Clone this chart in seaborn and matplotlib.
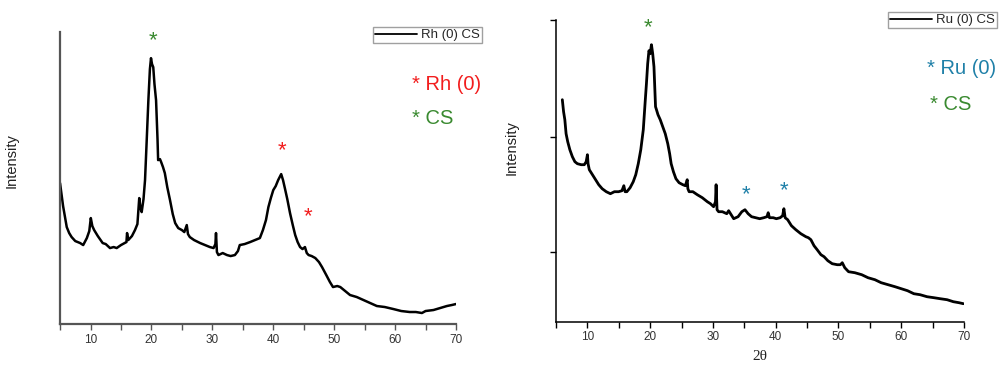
import matplotlib
matplotlib.use("Agg")
import matplotlib.pyplot as plt
import seaborn as sns
import pandas as pd

sns.set_theme(style="white")
plt.rcParams['font.family'] = ['Liberation Sans', 'DejaVu Sans']

# ---- Data ----
rh_two_theta = [5.0, 5.5, 6.1, 6.5, 6.9, 7.5, 8.3, 8.8, 9.4, 9.8, 10.05, 10.3, 10.6, 11.2, 12.0, 12.5,
                13.2, 13.8, 14.3, 15.0, 15.9, 16.0, 16.2, 16.8, 17.3, 17.7, 18.0, 18.2, 18.4, 18.7, 18.95,
                19.2, 19.5, 19.75, 19.93, 20.1, 20.3, 20.5, 20.76, 21.0, 21.1, 21.4, 21.6, 21.9, 22.2,
                22.6, 23.05, 23.5, 23.9, 24.4, 25.0, 25.4, 25.8, 26.0, 26.3, 27.0, 28.0, 28.8, 29.6,
                30.2, 30.5, 30.6, 30.75, 31.0, 31.7, 32.4, 33.0, 33.7, 34.2, 34.5, 35.3, 36.2, 37.0,
                37.8, 38.3, 38.8, 39.2, 39.6, 40.0, 40.4, 40.8, 41.3, 41.6, 41.9, 42.3, 42.75, 43.2,
                43.6, 44.0, 44.4, 44.8, 45.2, 45.5, 45.8, 46.3, 46.9, 47.5, 48.0, 48.7, 49.3, 49.8,
                50.5, 51.0, 51.8, 52.6, 53.7, 54.8, 55.9, 57.0, 58.3, 59.7, 61.0, 62.4, 63.4, 64.4,
                65.0, 66.3, 67.4, 68.5, 69.3, 70.0]
rh_intensity = [141, 118, 97, 91, 87, 83, 81, 79, 86, 93, 106, 98, 94, 88, 81, 80,
                76, 77, 76, 79, 82, 91, 84, 88, 94, 100, 126, 116, 112, 125, 144,
                180, 224, 255, 266, 260, 257, 240, 224, 185, 164, 165, 162, 157, 151,
                137, 124, 110, 101, 96, 94, 92, 99, 90, 87, 84, 81, 79, 77,
                76, 80, 91, 72, 69, 71, 69, 68, 69, 73, 79, 80, 82, 84,
                86, 94, 104, 117, 126, 134, 138, 144, 150, 144, 136, 125, 111, 99,
                89, 82, 77, 75, 77, 71, 69, 68, 66, 62, 57, 49, 42, 37,
                38, 37, 33, 29, 27, 24, 21, 18, 17, 15, 13, 12, 12, 11,
                13, 14, 16, 18, 19, 20]

ru_two_theta = [6.0, 6.2, 6.4, 6.6, 6.86, 7.2, 7.6, 8.0, 8.4, 9.0, 9.5, 9.8, 10.0, 10.1, 10.3, 10.8,
                11.3, 11.8, 12.35, 13.0, 13.66, 14.3, 14.96, 15.5, 15.8, 16.0, 16.28, 16.8, 17.3, 17.7,
                18.1, 18.5, 18.9, 19.2, 19.4, 19.6, 19.8, 20.0, 20.2, 20.4, 20.6, 20.85, 21.0, 21.24,
                21.6, 22.0, 22.4, 22.8, 23.1, 23.34, 23.7, 24.1, 24.6, 25.2, 25.6, 25.9, 26.0, 26.2,
                26.8, 27.5, 28.3, 29.1, 29.6, 30.1, 30.4, 30.5, 30.65, 30.9, 31.5, 32.2, 32.5, 33.3,
                34.0, 34.6, 35.1, 35.6, 36.15, 36.8, 37.45, 38.1, 38.6, 38.8, 39.0, 39.6, 40.1, 40.7,
                41.1, 41.3, 41.5, 41.9, 42.5, 43.2, 44.0, 44.8, 45.2, 45.6, 46.1, 46.6, 47.2, 47.7,
                48.3, 49.0, 49.8, 50.3, 50.6, 51.0, 51.6, 52.6, 53.7, 54.7, 55.8, 56.8, 57.9, 59.0,
                60.0, 61.0, 62.0, 63.0, 64.1, 65.2, 66.2, 67.3, 68.3, 69.2, 69.9]
ru_intensity = [222, 210, 202, 188, 180, 172, 165, 160, 158, 157, 157, 160, 167, 158, 152, 147,
                142, 137, 133, 130, 128, 130, 130, 131, 136, 130, 130, 134, 140, 147,
                158, 172, 192, 220, 238, 258, 271, 268, 277, 268, 255, 215, 212, 207,
                202, 195, 188, 178, 168, 158, 150, 143, 139, 137, 136, 142, 133, 130,
                130, 127, 124, 120, 118, 115, 120, 137, 112, 110, 110, 108, 111, 103,
                105, 110, 112, 108, 105, 104, 103, 104, 105, 109, 104, 104, 103, 104,
                106, 113, 104, 102, 96, 92, 88, 85, 84, 82, 76, 72, 67, 65,
                61, 58, 57, 57, 59, 54, 50, 49, 47, 44, 42, 39, 37, 35,
                33, 31, 28, 27, 25, 24, 23, 22, 20, 19, 18]

x_major_ticks = [10, 20, 30, 40, 50, 60, 70]
x_minor_ticks = [5, 15, 25, 35, 45, 55, 65]
ru_y_ticks = [69.4, 185, 301.7]

rh_label = "Rh (0) CS"
ru_label = "Ru (0) CS"

RED = "#f21d1d"
GREEN = "#3a8a30"
BLUE = "#1f80a8"

df_rh = pd.DataFrame({"2θ": rh_two_theta, "Intensity": rh_intensity, "sample": rh_label})
df_ru = pd.DataFrame({"2θ": ru_two_theta, "Intensity": ru_intensity, "sample": ru_label})

fig = plt.figure(figsize=(9.99, 3.65), dpi=100)
ax1 = fig.add_axes([0.0601, 0.1123, 0.3964, 0.8009])
ax2 = fig.add_axes([0.5566, 0.1186, 0.4084, 0.8266])

sns.lineplot(data=df_rh, x="2θ", y="Intensity", hue="sample", palette=["black"],
             linewidth=1.8, ax=ax1, estimator=None, sort=False)
sns.lineplot(data=df_ru, x="2θ", y="Intensity", hue="sample", palette=["black"],
             linewidth=2.0, ax=ax2, estimator=None, sort=False)

ax1.set_xlim(5, 70)
ax1.set_ylim(0, 292.5)
ax2.set_xlim(6, 70)
ax2.set_ylim(0, 301.7)

for ax, spcol in ((ax1, "#555555"), (ax2, "black")):
    for side in ("top", "right"):
        ax.spines[side].set_visible(False)
    for side in ("left", "bottom"):
        ax.spines[side].set_color(spcol)
        ax.spines[side].set_linewidth(1.6 if ax is ax1 else 1.1)
    ax.set_xticks(x_major_ticks)
    ax.set_xticks(x_minor_ticks, minor=True)
    ax.tick_params(axis="x", which="both", direction="out", length=4, width=1,
                   colors=spcol, labelcolor="#333333", labelsize=8.5, pad=3, bottom=True)
    ax.set_ylabel("Intensity", fontsize=10.5, color="#222222")
    ax.set_xlabel("")
    ax.patch.set_alpha(0)

ax1.set_yticks([])
ax2.set_yticks(ru_y_ticks)
ax2.set_yticklabels([])
ax2.tick_params(axis="y", direction="out", length=4, width=1, colors="black", left=True)

# label centres in figure pixels: left (19, 160), right (519, 148)
ax1.yaxis.set_label_coords((19 - 60) / 396, (324 - 160) / 292.5)
ax2.yaxis.set_label_coords((519 - 556) / 408, (321.7 - 148) / 301.7)

ax2.set_xlabel("2θ", family=["Liberation Serif", "DejaVu Serif"], fontsize=11, color="#222222",
               labelpad=5)

# legends placed like the reference boxes
for ax, anchor in ((ax1, (0.4825, 0.926)), (ax2, (0.998, 0.967))):
    leg = ax.legend(loc="upper right", bbox_to_anchor=anchor, bbox_transform=fig.transFigure,
                    frameon=True, fancybox=False, fontsize=9.5, handlelength=3.2,
                    handletextpad=0.3, borderpad=0.15, borderaxespad=0, edgecolor="#888888")
    leg.get_frame().set_linewidth(1.0)
    for h in leg.get_lines():
        h.set_linewidth(1.3)
    leg.set_title(None)

# peak markers
ax1.text(20.2, 283, "*", color=GREEN, fontsize=16, ha="center", va="center")
ax1.text(41.5, 173, "*", color=RED, fontsize=16, ha="center", va="center")
ax1.text(45.7, 107, "*", color=RED, fontsize=16, ha="center", va="center")
ax2.text(19.6, 294, "*", color=GREEN, fontsize=16, ha="center", va="center")
ax2.text(35.2, 127, "*", color=BLUE, fontsize=16, ha="center", va="center")
ax2.text(41.3, 131, "*", color=BLUE, fontsize=16, ha="center", va="center")

# phase key text
fig.text(412 / 999, 1 - 85 / 365, "* Rh (0)", color=RED, fontsize=14.5, ha="left", va="center")
fig.text(412 / 999, 1 - 119 / 365, "* CS", color=GREEN, fontsize=14.5, ha="left", va="center")
fig.text(927 / 999, 1 - 69 / 365, "* Ru (0)", color=BLUE, fontsize=14.5, ha="left", va="center")
fig.text(930 / 999, 1 - 105 / 365, "* CS", color=GREEN, fontsize=14.5, ha="left", va="center")

fig.savefig("out.png", dpi=100)
